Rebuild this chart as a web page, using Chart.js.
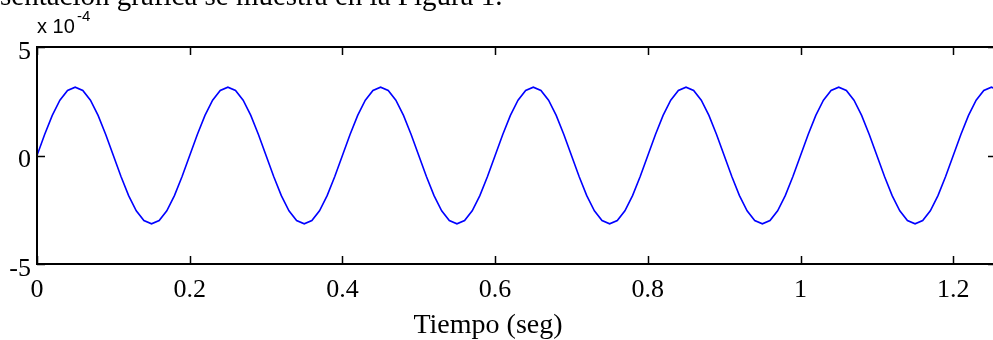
<!DOCTYPE html>
<html>
<head>
<meta charset="utf-8">
<script src="https://cdn.jsdelivr.net/npm/chart.js@4/dist/chart.umd.min.js"></script>
<style>
  html, body { margin: 0; padding: 0; background: #fff; overflow: hidden; }
  #wrap { width: 1000px; height: 340px; }
</style>
</head>
<body>
<div id="wrap"><canvas id="grafica" width="1000" height="340"></canvas></div>
<script>
// tiempo (seg), one sample every 0.01 s
const tiempo = [
  0, 0.01, 0.02, 0.03, 0.04, 0.05, 0.06, 0.07, 0.08, 0.09,
  0.10, 0.11, 0.12, 0.13, 0.14, 0.15, 0.16, 0.17, 0.18, 0.19,
  0.20, 0.21, 0.22, 0.23, 0.24, 0.25, 0.26, 0.27, 0.28, 0.29,
  0.30, 0.31, 0.32, 0.33, 0.34, 0.35, 0.36, 0.37, 0.38, 0.39,
  0.40, 0.41, 0.42, 0.43, 0.44, 0.45, 0.46, 0.47, 0.48, 0.49,
  0.50, 0.51, 0.52, 0.53, 0.54, 0.55, 0.56, 0.57, 0.58, 0.59,
  0.60, 0.61, 0.62, 0.63, 0.64, 0.65, 0.66, 0.67, 0.68, 0.69,
  0.70, 0.71, 0.72, 0.73, 0.74, 0.75, 0.76, 0.77, 0.78, 0.79,
  0.80, 0.81, 0.82, 0.83, 0.84, 0.85, 0.86, 0.87, 0.88, 0.89,
  0.90, 0.91, 0.92, 0.93, 0.94, 0.95, 0.96, 0.97, 0.98, 0.99,
  1.00, 1.01, 1.02, 1.03, 1.04, 1.05, 1.06, 1.07, 1.08, 1.09,
  1.10, 1.11, 1.12, 1.13, 1.14, 1.15, 1.16, 1.17, 1.18, 1.19,
  1.20, 1.21, 1.22, 1.23, 1.24, 1.25, 1.26
];

// señal, in units of 1e-4
const senal = [
  0, 0.97, 1.85, 2.55, 3.0, 3.15, 3.0, 2.55, 1.85, 0.97,
  0, -0.97, -1.85, -2.55, -3.0, -3.15, -3.0, -2.55, -1.85, -0.97,
  0, 0.97, 1.85, 2.55, 3.0, 3.15, 3.0, 2.55, 1.85, 0.97,
  0, -0.97, -1.85, -2.55, -3.0, -3.15, -3.0, -2.55, -1.85, -0.97,
  0, 0.97, 1.85, 2.55, 3.0, 3.15, 3.0, 2.55, 1.85, 0.97,
  0, -0.97, -1.85, -2.55, -3.0, -3.15, -3.0, -2.55, -1.85, -0.97,
  0, 0.97, 1.85, 2.55, 3.0, 3.15, 3.0, 2.55, 1.85, 0.97,
  0, -0.97, -1.85, -2.55, -3.0, -3.15, -3.0, -2.55, -1.85, -0.97,
  0, 0.97, 1.85, 2.55, 3.0, 3.15, 3.0, 2.55, 1.85, 0.97,
  0, -0.97, -1.85, -2.55, -3.0, -3.15, -3.0, -2.55, -1.85, -0.97,
  0, 0.97, 1.85, 2.55, 3.0, 3.15, 3.0, 2.55, 1.85, 0.97,
  0, -0.97, -1.85, -2.55, -3.0, -3.15, -3.0, -2.55, -1.85, -0.97,
  0, 0.97, 1.85, 2.55, 3.0, 3.15, 3.0
];

const xTicks = [0, 0.2, 0.4, 0.6, 0.8, 1, 1.2];
const yTicks = [-5, 0, 5];

const textoPagina = 'sentación gráfica se muestra en la Figura 1.';
const etiquetaX = 'Tiempo (seg)';
const exponente = ['x 10', '-4'];

// box, inward ticks, exponent and the surrounding page text
const marcoPlugin = {
  id: 'marco',
  afterDraw(chart) {
    const ctx = chart.ctx;
    const { left, right, top, bottom } = chart.chartArea;
    const xs = chart.scales.x, ys = chart.scales.y;
    ctx.save();
    ctx.strokeStyle = '#000';
    ctx.lineWidth = 1.5;
    ctx.beginPath();
    xTicks.forEach(v => {
      const px = Math.round(xs.getPixelForValue(v)) + 0.5;
      ctx.moveTo(px, bottom); ctx.lineTo(px, bottom - 8);
      ctx.moveTo(px, top); ctx.lineTo(px, top + 8);
    });
    yTicks.forEach(v => {
      const py = Math.round(ys.getPixelForValue(v)) + 0.5;
      ctx.moveTo(left, py); ctx.lineTo(left + 8, py);
      ctx.moveTo(right, py); ctx.lineTo(right - 8, py);
    });
    ctx.stroke();
    ctx.lineWidth = 2;
    ctx.strokeRect(left, top, right - left, bottom - top);

    ctx.fillStyle = '#000';
    ctx.textBaseline = 'alphabetic';
    ctx.textAlign = 'left';
    ctx.font = '29px "Liberation Serif"';
    ctx.fillText(textoPagina, 0, 5);

    ctx.font = '20px "Liberation Sans"';
    ctx.fillText(exponente[0], 37, 33);
    ctx.font = '15px "Liberation Sans"';
    ctx.fillText(exponente[1], 77, 21);

    ctx.textAlign = 'center';
    ctx.font = '28px "Liberation Serif"';
    ctx.fillText(etiquetaX, 488, 333);
    ctx.restore();
  }
};

const ctx = document.getElementById('grafica').getContext('2d');
new Chart(ctx, {
  type: 'line',
  data: {
    labels: tiempo,
    datasets: [{
      data: senal,
      borderColor: '#0000ff',
      borderWidth: 1.6,
      pointRadius: 0,
      tension: 0,
      fill: false
    }]
  },
  options: {
    responsive: false,
    animation: false,
    devicePixelRatio: 1,
    layout: { padding: { top: 47, right: 4, left: 0, bottom: 0 } },
    plugins: { legend: { display: false }, tooltip: { enabled: false } },
    scales: {
      x: {
        type: 'linear',
        min: 0,
        max: 1.256,
        afterFit(scale) { scale.height = 76; },
        afterBuildTicks(scale) { scale.ticks = xTicks.map(v => ({ value: v })); },
        grid: { display: false, drawTicks: false },
        border: { display: false },
        ticks: {
          color: '#000',
          padding: 11,
          maxRotation: 0,
          font: { family: 'Liberation Serif', size: 26 },
          callback: v => String(Number(v.toFixed(1)))
        }
      },
      y: {
        min: -5,
        max: 5,
        afterFit(scale) { scale.width = 37; },
        afterBuildTicks(scale) { scale.ticks = yTicks.map(v => ({ value: v })); },
        grid: { display: false, drawTicks: false },
        border: { display: false },
        ticks: {
          color: '#000',
          padding: 6,
          labelOffset: 5,
          font: { family: 'Liberation Serif', size: 26 },
          callback: v => String(v)
        }
      }
    }
  },
  plugins: [marcoPlugin]
});
</script>
</body>
</html>
